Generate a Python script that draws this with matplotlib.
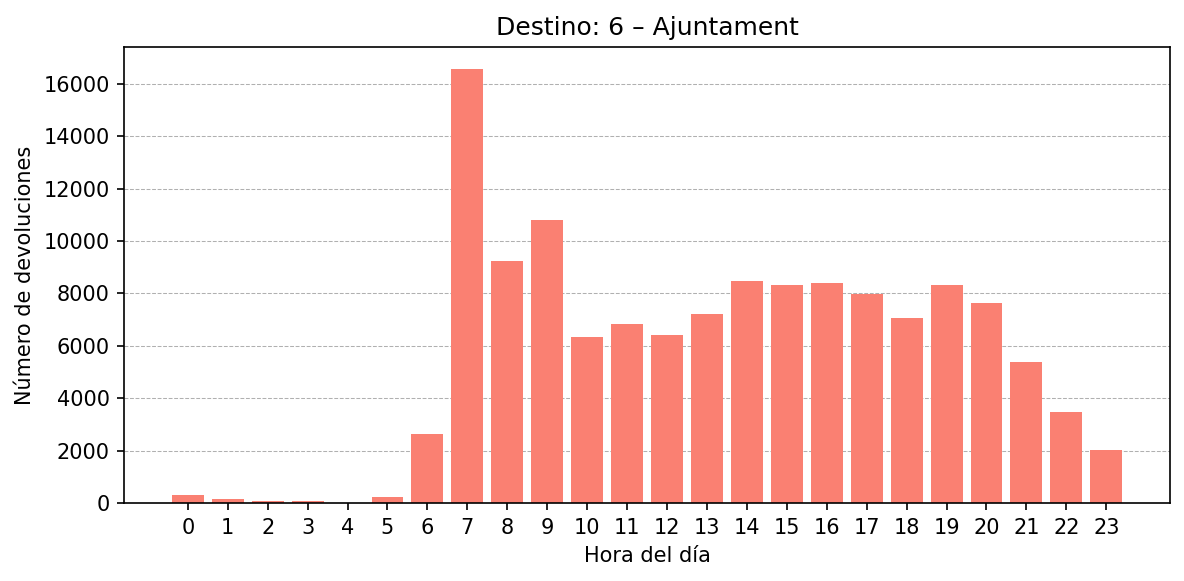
import matplotlib
matplotlib.use("Agg")
import matplotlib.pyplot as plt

horas = list(range(24))
devoluciones = [300, 150, 75, 70, 15, 230, 2630, 16570, 9220, 10820, 6320, 6820,
                6400, 7200, 8460, 8340, 8380, 7960, 7050, 8340, 7620, 5370, 3470, 2020]

fig, ax = plt.subplots(figsize=(1184 / 150, 581 / 150), dpi=150)
ax.bar(horas, devoluciones, color="salmon")
ax.set_xticks(horas)
ax.set_title("Destino: 6 – Ajuntament")
ax.set_xlabel("Hora del día")
ax.set_ylabel("Número de devoluciones")
ax.grid(axis="y", linestyle="--", linewidth=0.5)
ax.set_axisbelow(True)
fig.subplots_adjust(left=0.105, right=0.988, top=0.919, bottom=0.134)
fig.savefig("out.png", dpi=150)
